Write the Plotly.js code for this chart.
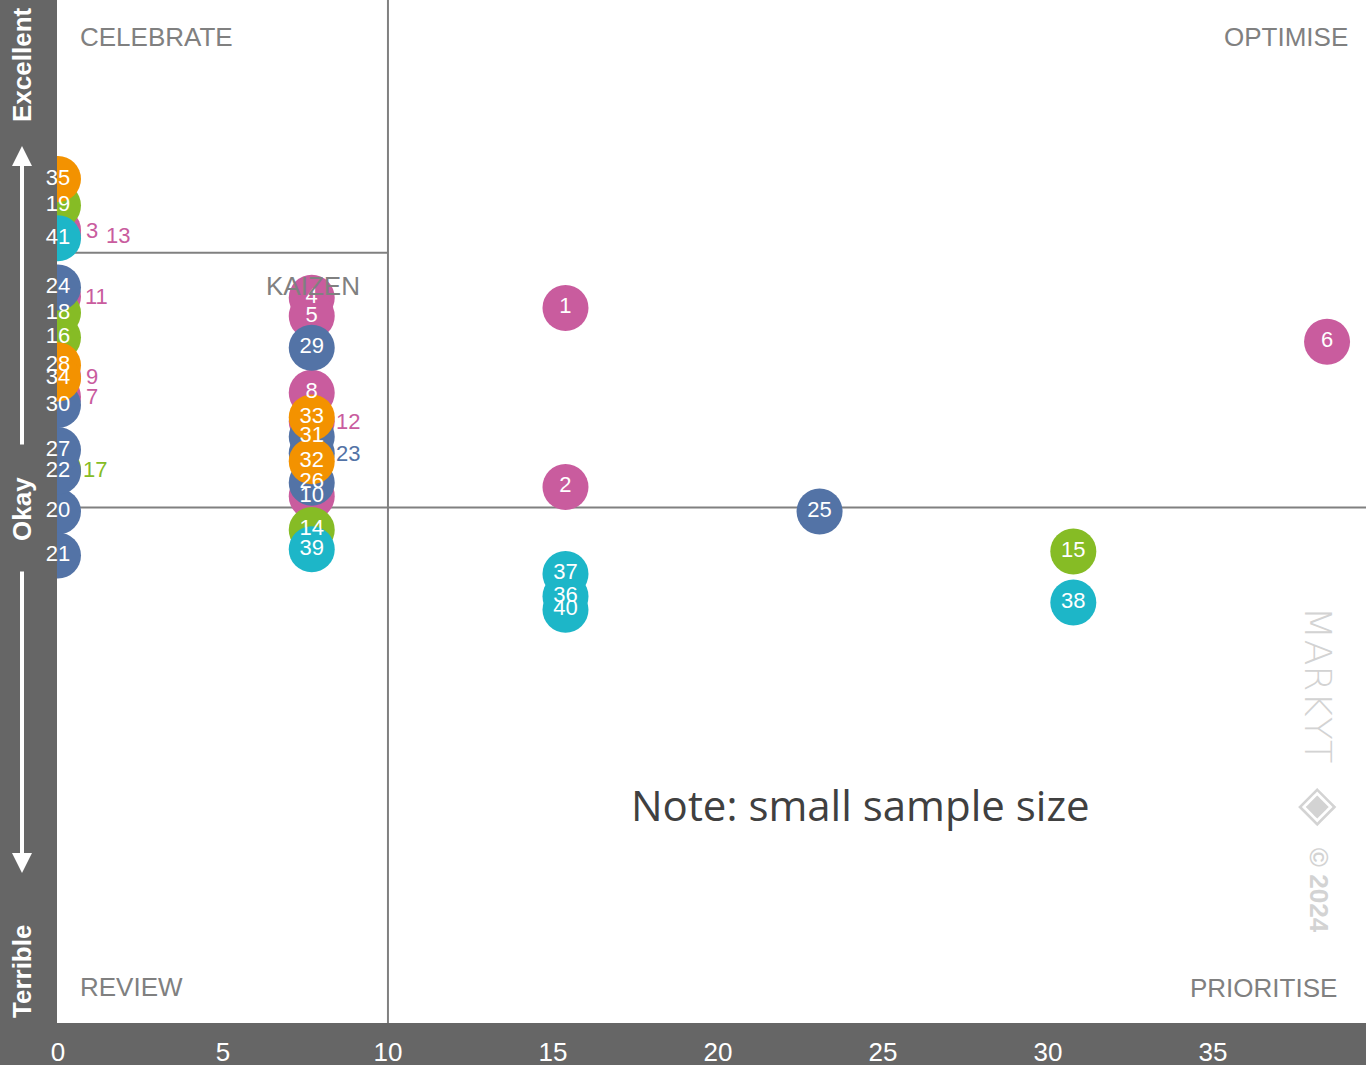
<!DOCTYPE html>
<html>
<head>
<meta charset="utf-8">
<script src="https://cdn.plot.ly/plotly-3.0.1.min.js"></script>
<style>html,body{margin:0;padding:0;background:#fff;}#chart{width:1366px;height:1065px;}</style>
</head>
<body>
<div id="chart"></div>
<script>
// ---- DATA ----
const pinkIds = ['1','2','3','4','5','6','7','8','9','10','11','12','13'];
const pinkX   = [15.38,15.38,0,7.69,7.69,38.46,0,7.69,0,7.69,0,7.69,0];
const pinkY   = [69.9,52.4,77.5,70.9,69.1,66.6,61.2,61.6,63.2,51.5,71.0,58.8,77.0];

const greenIds = ['14','15','16','17','18','19'];
const greenX   = [7.69,30.77,0,0,0,0];
const greenY   = [48.2,46.1,67.0,54.1,69.4,79.9];

const blueIds = ['20','21','22','23','24','25','26','27','29','30','31'];
const blueX   = [0,0,0,7.69,0,23.08,7.69,0,7.69,0,7.69];
const blueY   = [50.0,45.7,53.9,55.7,71.9,50.0,52.8,56.0,66.0,60.4,57.3];

const orangeIds = ['28','32','33','34','35'];
const orangeX   = [0,7.69,7.69,0,0];
const orangeY   = [64.3,54.9,59.2,63.0,82.5];

const cyanIds = ['36','37','38','39','40','41'];
const cyanX   = [15.38,15.38,30.77,7.69,15.38,0];
const cyanY   = [41.7,43.9,41.1,46.3,40.4,76.7];

// labels drawn beside (hidden) markers rather than on them
const sideIds = ['3','13','11','9','7','17','12','23'];

const xTicks = [0,5,10,15,20,25,30,35,40];
const midY = 50.4, kaizenY = 75.3, splitX = 10;

const quadLabels = ['CELEBRATE','OPTIMISE','KAIZEN','REVIEW','PRIORITISE'];
const axisWords = ['Excellent','Okay','Terrible'];
const noteText = 'Note: small sample size';

// ---- CHART ----
const series = [
  {ids: pinkIds, x: pinkX, y: pinkY, color: '#C95C9E'},
  {ids: greenIds, x: greenX, y: greenY, color: '#86BC25'},
  {ids: blueIds, x: blueX, y: blueY, color: '#5373A6'},
  {ids: orangeIds, x: orangeX, y: orangeY, color: '#F39200'},
  {ids: cyanIds, x: cyanX, y: cyanY, color: '#1DB6C8'}
];
const LBL = 'Liberation Sans, Arial, sans-serif';
const traces = [];
series.forEach(s => traces.push({
  type: 'scatter', mode: 'markers', x: s.x, y: s.y,
  marker: {size: 46, color: s.color, line: {width: 0}},
  cliponaxis: true, hoverinfo: 'skip', showlegend: false
}));
series.forEach(s => traces.push({
  type: 'scatter', mode: 'text', x: s.x, y: s.y,
  text: s.ids.map(id => sideIds.includes(id) ? '' : id),
  textposition: 'middle center',
  textfont: {family: LBL, size: 22, color: '#ffffff'},
  cliponaxis: false, hoverinfo: 'skip', showlegend: false
}));

const annotations = [];
const sideShift = {'13': 46, '12': 22, '23': 22, '17': 23, '11': 25};
series.forEach(s => s.ids.forEach((id, i) => {
  if (sideIds.includes(id)) {
    annotations.push({x: s.x[i], y: s.y[i], xref: 'x', yref: 'y', text: id,
      showarrow: false, xanchor: 'left', yanchor: 'middle',
      xshift: sideShift[id] || 26,
      font: {family: LBL, size: 22, color: s.color}});
  }
}));

const qFont = {family: LBL, size: 26, color: '#808080'};
annotations.push(
  {x: 0.62, y: 96.4, text: quadLabels[0], xanchor: 'left', font: qFont},
  {x: 39.15, y: 96.4, text: quadLabels[1], xanchor: 'right', font: qFont},
  {x: 7.73, y: 72.0, text: quadLabels[2], xanchor: 'center', font: qFont},
  {x: 0.62, y: 3.5, text: quadLabels[3], xanchor: 'left', font: qFont},
  {x: 38.82, y: 3.4, text: quadLabels[4], xanchor: 'right', font: qFont},
  {x: 24.33, y: 21.4, text: noteText, xanchor: 'center',
   font: {family: 'Open Sans, sans-serif', size: 42, color: '#404040'}},
  {x: 38.18, y: 33.0, text: 'MARKYT', textangle: 90,
   font: {family: 'DejaVu Sans, sans-serif', size: 38, color: '#d3d3d3', weight: 200}},
  {x: 38.18, y: 21.5, text: '◈', font: {family: 'DejaVu Sans', size: 50, color: '#d3d3d3'}},
  {x: 38.22, y: 13.0, text: '© 2024', textangle: 90,
   font: {family: LBL, size: 26, color: '#d3d3d3', weight: 'bold'}}
);
annotations.forEach(a => { if (!a.xref) { a.xref = 'x'; a.yref = 'y'; a.showarrow = false; } });

const bandX = (22 - 57) / 1309;
const wFont = {family: LBL, size: 26, color: '#ffffff', weight: 'bold'};
const wordY = [65, 509, 972];
axisWords.forEach((w, i) => annotations.push({
  xref: 'paper', yref: 'paper', x: bandX, y: 1 - wordY[i]/1023,
  xanchor: 'center', yanchor: 'middle', text: '<b>' + w + '</b>',
  textangle: -90, showarrow: false, font: wFont
}));
annotations.push(
  {xref: 'paper', yref: 'paper', x: bandX, y: 1 - 146/1023, text: '', showarrow: true,
   axref: 'pixel', ayref: 'pixel', ax: 0, ay: 300, arrowhead: 2, arrowsize: 1, arrowwidth: 4, arrowcolor: '#ffffff'},
  {xref: 'paper', yref: 'paper', x: bandX, y: 1 - 873/1023, text: '', showarrow: true,
   axref: 'pixel', ayref: 'pixel', ax: 0, ay: -303, arrowhead: 2, arrowsize: 1, arrowwidth: 4, arrowcolor: '#ffffff'}
);

const lineStyle = {color: '#808080', width: 2};
const shapes = [
  {type: 'line', xref: 'x', yref: 'paper', x0: splitX, x1: splitX, y0: 0, y1: 1, line: lineStyle, layer: 'below'},
  {type: 'line', xref: 'paper', yref: 'y', x0: 0, x1: 1, y0: midY, y1: midY, line: lineStyle, layer: 'below'},
  {type: 'line', xref: 'x', yref: 'y', x0: 0, x1: splitX, y0: kaizenY, y1: kaizenY, line: lineStyle, layer: 'below'}
];

const layout = {
  width: 1366, height: 1065,
  margin: {l: 57, r: 0, t: 0, b: 42, pad: 0},
  paper_bgcolor: '#666666', plot_bgcolor: '#ffffff',
  showlegend: false,
  xaxis: {range: [-0.03, 39.64], tickvals: xTicks, ticktext: xTicks.map(String),
    showgrid: false, zeroline: false, showline: false, ticks: '',
    ticklabelstandoff: 11,
    tickfont: {family: 'Liberation Sans Narrow, Arial Narrow, sans-serif', size: 26, color: '#ffffff'},
    fixedrange: true},
  yaxis: {range: [0, 100], showgrid: false, zeroline: false, showline: false,
    showticklabels: false, ticks: '', fixedrange: true},
  shapes: shapes,
  annotations: annotations
};
Plotly.newPlot('chart', traces, layout, {displayModeBar: false, staticPlot: true});
</script>
</body>
</html>
